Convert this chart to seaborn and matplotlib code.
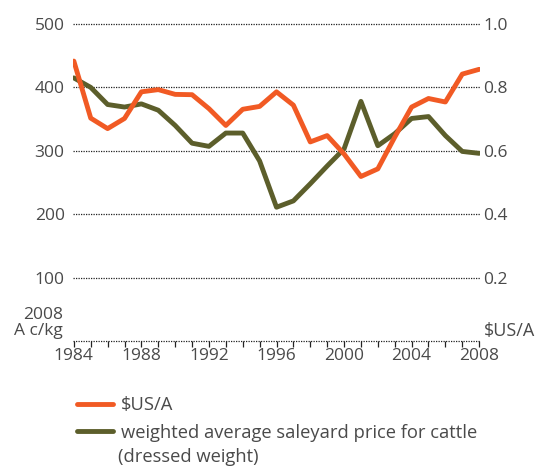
import numpy as np
import pandas as pd
import seaborn as sns
import matplotlib.pyplot as plt
from matplotlib.lines import Line2D

sns.set_theme(style='white')
plt.rcParams['font.family'] = ['Open Sans', 'DejaVu Sans']
plt.rcParams['xtick.bottom'] = True

#%% Data
years = list(range(1984, 2009))
usd_aud = [0.883, 0.703, 0.670, 0.702, 0.786, 0.793, 0.778, 0.777, 0.733, 0.680,
           0.731, 0.740, 0.786, 0.744, 0.628, 0.648, 0.590, 0.519, 0.543, 0.643,
           0.738, 0.765, 0.754, 0.842, 0.857]
cattle_price = [415, 400, 373, 369, 374, 364, 340, 312, 307, 328,
                328, 284, 211, 221, 248, 276, 303, 378, 308, 327,
                351, 354, 324, 299, 296]

orange = '#f15a24'
olive = '#5c5e2b'
grey = '#4a4a4a'

df = pd.DataFrame({'year': years, 'usd': usd_aud, 'cattle': cattle_price})

#%% Plot
fig = plt.figure(figsize=(5.39, 4.66), dpi=100)
ax = fig.add_axes([73/539, 125/466, 407/539, 317/466])
ax2 = ax.twinx()

sns.lineplot(data=df, x='year', y='cattle', ax=ax, color=olive, lw=3.5, zorder=3)
sns.lineplot(data=df, x='year', y='usd', ax=ax2, color=orange, lw=3.5, zorder=4)

ax.set_xlim(1983.95, 2008.05)
ax.set_ylim(0, 500)
ax2.set_ylim(0, 1.0)

for a in (ax, ax2):
    for s in a.spines.values():
        s.set_visible(False)
    a.set_xlabel('')
    a.set_ylabel('')

# dotted grid lines, the zero one doubles as x axis
for v in [0, 100, 200, 300, 400, 500]:
    ax.axhline(v, color='#222222', lw=0.9, ls=(0, (1, 1)), zorder=1, clip_on=False)

ax.set_yticks([100, 200, 300, 400, 500])
ax.set_yticklabels(['100', '200', '300', '400', '500'])
ax2.set_yticks([0.2, 0.4, 0.6, 0.8, 1.0])
ax2.set_yticklabels(['0.2', '0.4', '0.6', '0.8', '1.0'])
ax.tick_params(axis='y', length=0, pad=6, labelsize=12.5, labelcolor=grey)
ax2.tick_params(axis='y', length=0, pad=2.5, labelsize=12.5, labelcolor=grey)

ax.set_xticks(years, minor=True)
ax.set_xticks(list(range(1984, 2009, 4)))
ax.tick_params(axis='x', which='both', direction='out', length=4, width=0.9,
               color='#222222', labelsize=12.5, labelcolor=grey, pad=1,
               bottom=True, labelbottom=True)

fig.text(63/539, 1 - 339/466, '2008\nA c/kg', ha='right', va='bottom',
         fontsize=12.5, color=grey, linespacing=1.0)
fig.text(484/539, 1 - 340/466, '$US/A', ha='left', va='bottom',
         fontsize=13, color=grey)

handles = [Line2D([], [], color=orange, lw=3.5),
           Line2D([], [], color=olive, lw=3.5)]
labels = ['$US/A', 'weighted average saleyard price for cattle']
leg = fig.legend(handles, labels, loc='upper left', bbox_to_anchor=(70/539, 1 - 389/466),
                 frameon=False, fontsize=13.2, handlelength=1.95, handletextpad=0.42,
                 labelspacing=0.5, borderaxespad=0)
for t in leg.get_texts():
    t.set_color(grey)
fig.text(118/539, 1 - 466/466, '(dressed weight)', ha='left', va='bottom',
         fontsize=13.2, color=grey)

fig.savefig('out.png', dpi=100)
